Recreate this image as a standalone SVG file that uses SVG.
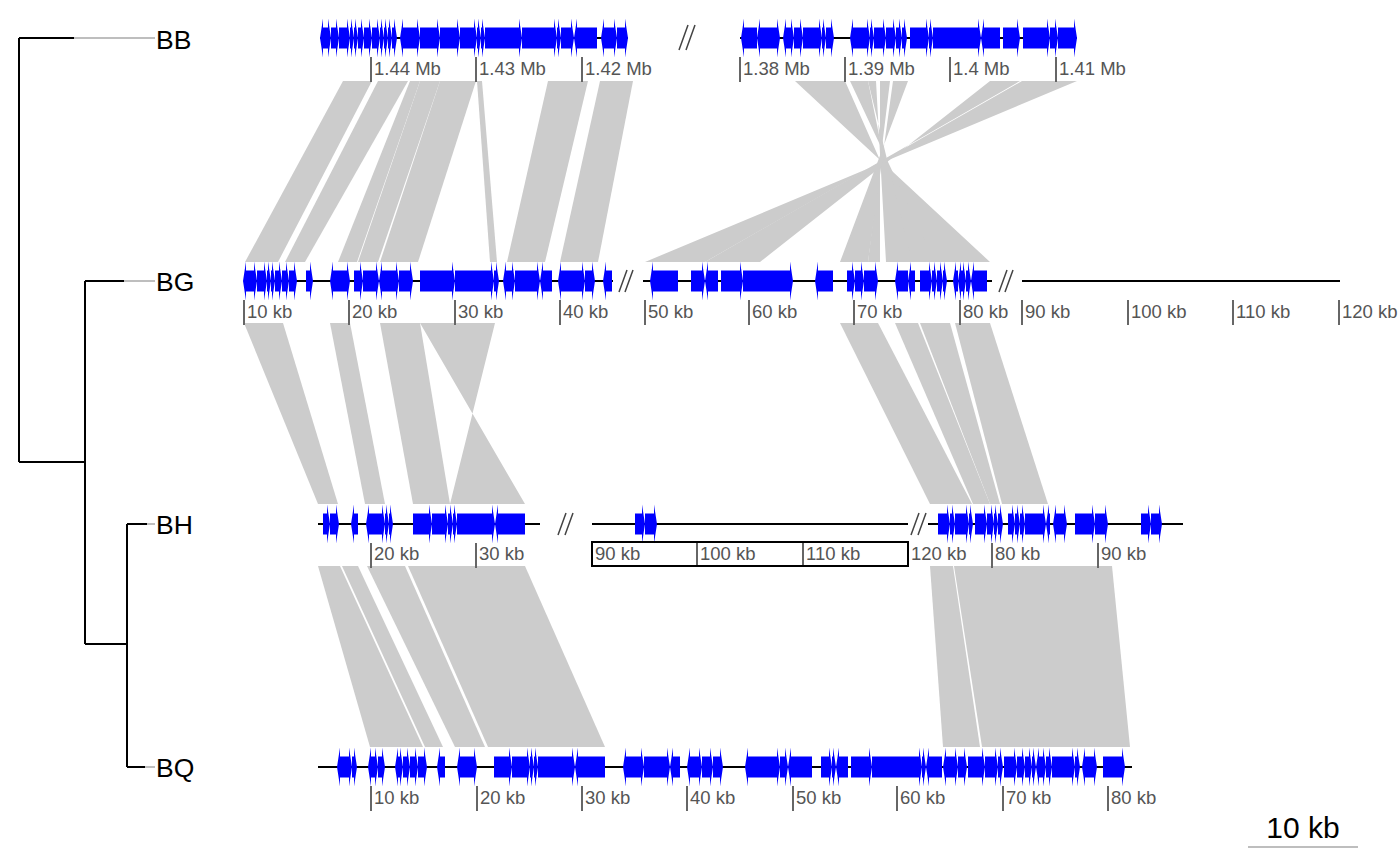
<svg xmlns="http://www.w3.org/2000/svg" width="1400" height="866" viewBox="0 0 1400 866">
<style>
.g{fill:#0000FF;stroke:none}
.ln{stroke:#000;stroke-width:2;fill:none}
.tk{stroke:#666;stroke-width:2;fill:none}
.tl{font-family:"Liberation Sans",Arial,sans-serif;font-size:18.5px;fill:#555}
.nm{font-family:"Liberation Sans",Arial,sans-serif;font-size:26.5px;fill:#000}
.br{stroke:#444;stroke-width:1.5;fill:none}
.cmp{fill:#CCCCCC;stroke:none}
.tb{stroke:#000;stroke-width:2;fill:none}
.tg{stroke:#BEBEBE;stroke-width:2;fill:none}
</style>
<rect width="1400" height="866" fill="#fff"/>
<g id="tree">
<path class="tb" d="M19 38V462M19 38H74M19 462H85M85 281V644M85 281H124M85 644H127M127 524V767M127 524H147M127 767H145"/>
<path class="tg" d="M74 38H155M124 281H155M147 524H155M145 767H155"/>
<text class="nm" x="156" y="49">BB</text>
<text class="nm" x="156" y="291">BG</text>
<text class="nm" x="156" y="534">BH</text>
<text class="nm" x="156" y="777">BQ</text>
</g>
<g id="connectors">
<polygon class="cmp" points="343,81 372,81 278,262 245,262"/>
<polygon class="cmp" points="378,81 408,81 305,262 285,262"/>
<polygon class="cmp" points="410,81 420,81 357,262 338,262"/>
<polygon class="cmp" points="420,81 440,81 378,262 358,262"/>
<polygon class="cmp" points="440,81 476,81 418,262 380,262"/>
<polygon class="cmp" points="477,81 482,81 497,262 490,262"/>
<polygon class="cmp" points="548,81 588,81 545,262 507,262"/>
<polygon class="cmp" points="600,81 633,81 598,262 560,262"/>
<polygon class="cmp" points="795,81 845,81 925,262 990,262"/>
<polygon class="cmp" points="850,81 868,81 905,262 935,262"/>
<polygon class="cmp" points="868,81 876,81 886,262 912,262"/>
<polygon class="cmp" points="880,81 890,81 868,262 880,262"/>
<polygon class="cmp" points="893,81 908,81 840,262 868,262"/>
<polygon class="cmp" points="990,81 1020,81 705,262 760,262"/>
<polygon class="cmp" points="1022,81 1077,81 645,262 705,262"/>
<polygon class="cmp" points="244,323 283,323 338,504 318,504"/>
<polygon class="cmp" points="330,323 350,323 385,504 365,504"/>
<polygon class="cmp" points="380,323 420,323 450,504 413,504"/>
<polygon class="cmp" points="420,323 495,323 450,504 525,504"/>
<polygon class="cmp" points="840,323 878,323 972,504 930,504"/>
<polygon class="cmp" points="895,323 918,323 990,504 973,504"/>
<polygon class="cmp" points="920,323 950,323 1000,504 990,504"/>
<polygon class="cmp" points="955,323 990,323 1048,504 1002,504"/>
<polygon class="cmp" points="318,566 340,566 423,747 370,747"/>
<polygon class="cmp" points="342,566 358,566 443,747 425,747"/>
<polygon class="cmp" points="367,566 405,566 485,747 455,747"/>
<polygon class="cmp" points="408,566 525,566 605,747 488,747"/>
<polygon class="cmp" points="930,566 953,566 980,747 943,747"/>
<polygon class="cmp" points="954,566 1112,566 1130,747 982,747"/>
</g>
<g id="BB" transform="translate(0,38)">
<path class="ln" d="M320 0H628M740 0H1077"/>
<path class="br" d="M679 12l9-25M686 12l9-25"/>
<path class="g" d="M327-10.5H320h3v-9l-3 19.5 3 19.5v-9H327zM327-10.5H331h-3v-9l3 19.5-3 19.5v-9H327zM331-10.5H339h-3v-9l3 19.5-3 19.5v-9H331zM339-10.5H350h-3v-9l3 19.5-3 19.5v-9H339zM350-10.5H354h-3v-9l3 19.5-3 19.5v-9H350zM354-10.5H358h-3v-9l3 19.5-3 19.5v-9H354zM358-10.5H364h-3v-9l3 19.5-3 19.5v-9H358zM364-10.5H372h-3v-9l3 19.5-3 19.5v-9H364zM372-10.5H380h-3v-9l3 19.5-3 19.5v-9H372zM380-10.5H384h-3v-9l3 19.5-3 19.5v-9H380zM384-10.5H388h-3v-9l3 19.5-3 19.5v-9H384zM388-10.5H392h-3v-9l3 19.5-3 19.5v-9H388zM392-10.5H397h-3v-9l3 19.5-3 19.5v-9H392zM416-10.5H400h3v-9l-3 19.5 3 19.5v-9H416zM416-10.5H420h-3v-9l3 19.5-3 19.5v-9H416zM420-10.5H440h-3v-9l3 19.5-3 19.5v-9H420zM440-10.5H460h-3v-9l3 19.5-3 19.5v-9H440zM460-10.5H477h-3v-9l3 19.5-3 19.5v-9H460zM477-10.5H481h-3v-9l3 19.5-3 19.5v-9H477zM481-10.5H485h-3v-9l3 19.5-3 19.5v-9H481zM485-10.5H522h-3v-9l3 19.5-3 19.5v-9H485zM522-10.5H557h-3v-9l3 19.5-3 19.5v-9H522zM557-10.5H561h-3v-9l3 19.5-3 19.5v-9H557zM561-10.5H574h-3v-9l3 19.5-3 19.5v-9H561zM597-10.5H574h3v-9l-3 19.5 3 19.5v-9H597zM612-10.5H601h3v-9l-3 19.5 3 19.5v-9H612zM612-10.5H617h-3v-9l3 19.5-3 19.5v-9H612zM617-10.5H628h-3v-9l3 19.5-3 19.5v-9H617z"/>
<path class="g" d="M757-10.5H741h3v-9l-3 19.5 3 19.5v-9H757zM762-10.5H757h3v-9l-3 19.5 3 19.5v-9H762zM762-10.5H780h-3v-9l3 19.5-3 19.5v-9H762zM789-10.5H783h3v-9l-3 19.5 3 19.5v-9H789zM789-10.5H794h-3v-9l3 19.5-3 19.5v-9H789zM794-10.5H803h-3v-9l3 19.5-3 19.5v-9H794zM803-10.5H822h-3v-9l3 19.5-3 19.5v-9H803zM822-10.5H826h-3v-9l3 19.5-3 19.5v-9H822zM826-10.5H834h-3v-9l3 19.5-3 19.5v-9H826zM857-10.5H850h3v-9l-3 19.5 3 19.5v-9H857zM857-10.5H870h-3v-9l3 19.5-3 19.5v-9H857zM870-10.5H874h-3v-9l3 19.5-3 19.5v-9H870zM874-10.5H886h-3v-9l3 19.5-3 19.5v-9H874zM886-10.5H896h-3v-9l3 19.5-3 19.5v-9H886zM896-10.5H902h-3v-9l3 19.5-3 19.5v-9H896zM902-10.5H907h-3v-9l3 19.5-3 19.5v-9H902zM910-10.5H929h-3v-9l3 19.5-3 19.5v-9H910zM929-10.5H933h-3v-9l3 19.5-3 19.5v-9H929zM933-10.5H981h-3v-9l3 19.5-3 19.5v-9H933zM1000-10.5H981h3v-9l-3 19.5 3 19.5v-9H1000zM1003-10.5H1020h-3v-9l3 19.5-3 19.5v-9H1003zM1023-10.5H1050h-3v-9l3 19.5-3 19.5v-9H1023zM1050-10.5H1058h-3v-9l3 19.5-3 19.5v-9H1050zM1058-10.5H1077h-3v-9l3 19.5-3 19.5v-9H1058z"/>
<path class="tk" d="M371 19V44M476 19V44M582 19V44M740 19V44M845 19V44M950 19V44M1056 19V44"/>
<text class="tl" y="37"><tspan x="374">1.44 Mb</tspan><tspan x="479">1.43 Mb</tspan><tspan x="585">1.42 Mb</tspan><tspan x="743">1.38 Mb</tspan><tspan x="848">1.39 Mb</tspan><tspan x="953">1.4 Mb</tspan><tspan x="1059">1.41 Mb</tspan></text>
</g>
<g id="BG" transform="translate(0,281)">
<path class="ln" d="M244 0H613M643 0H992M1022 0H1340"/>
<path class="br" d="M619 11l8-22M625 11l8-22M999 11l8-22M1005 11l8-22"/>
<path class="g" d="M249-10.5H243h3v-9l-3 19.5 3 19.5v-9H249zM249-10.5H257h-3v-9l3 19.5-3 19.5v-9H249zM257-10.5H267h-3v-9l3 19.5-3 19.5v-9H257zM267-10.5H271h-3v-9l3 19.5-3 19.5v-9H267zM271-10.5H275h-3v-9l3 19.5-3 19.5v-9H271zM275-10.5H282h-3v-9l3 19.5-3 19.5v-9H275zM282-10.5H289h-3v-9l3 19.5-3 19.5v-9H282zM289-10.5H297h-3v-9l3 19.5-3 19.5v-9H289zM306-10.5H313h-3v-9l3 19.5-3 19.5v-9H306zM336-10.5H330h3v-9l-3 19.5 3 19.5v-9H336zM336-10.5H350h-3v-9l3 19.5-3 19.5v-9H336zM354-10.5H363h-3v-9l3 19.5-3 19.5v-9H354zM363-10.5H379h-3v-9l3 19.5-3 19.5v-9H363zM395-10.5H379h3v-9l-3 19.5 3 19.5v-9H395zM395-10.5H399h-3v-9l3 19.5-3 19.5v-9H395zM399-10.5H413h-3v-9l3 19.5-3 19.5v-9H399zM420-10.5H455h-3v-9l3 19.5-3 19.5v-9H420zM455-10.5H494h-3v-9l3 19.5-3 19.5v-9H455zM494-10.5H499h-3v-9l3 19.5-3 19.5v-9H494zM511-10.5H503h3v-9l-3 19.5 3 19.5v-9H511zM511-10.5H515h-3v-9l3 19.5-3 19.5v-9H511zM515-10.5H540h-3v-9l3 19.5-3 19.5v-9H515zM552-10.5H540h3v-9l-3 19.5 3 19.5v-9H552zM573-10.5H558h3v-9l-3 19.5 3 19.5v-9H573zM573-10.5H585h-3v-9l3 19.5-3 19.5v-9H573zM585-10.5H595h-3v-9l3 19.5-3 19.5v-9H585zM612-10.5H603h3v-9l-3 19.5 3 19.5v-9H612z"/>
<path class="g" d="M678-10.5H650h3v-9l-3 19.5 3 19.5v-9H678zM691-10.5H705h-3v-9l3 19.5-3 19.5v-9H691zM718-10.5H705h3v-9l-3 19.5 3 19.5v-9H718zM721-10.5H743h-3v-9l3 19.5-3 19.5v-9H721zM743-10.5H793h-3v-9l3 19.5-3 19.5v-9H743zM833-10.5H815h3v-9l-3 19.5 3 19.5v-9H833zM847-10.5H855h-3v-9l3 19.5-3 19.5v-9H847zM855-10.5H864h-3v-9l3 19.5-3 19.5v-9H855zM864-10.5H878h-3v-9l3 19.5-3 19.5v-9H864zM908-10.5H895h3v-9l-3 19.5 3 19.5v-9H908zM915-10.5H908h3v-9l-3 19.5 3 19.5v-9H915zM920-10.5H932h-3v-9l3 19.5-3 19.5v-9H920zM932-10.5H937h-3v-9l3 19.5-3 19.5v-9H932zM937-10.5H943h-3v-9l3 19.5-3 19.5v-9H937zM943-10.5H947h-3v-9l3 19.5-3 19.5v-9H943zM958-10.5H953h3v-9l-3 19.5 3 19.5v-9H958zM962-10.5H958h3v-9l-3 19.5 3 19.5v-9H962zM962-10.5H966h-3v-9l3 19.5-3 19.5v-9H962zM966-10.5H971h-3v-9l3 19.5-3 19.5v-9H966zM987-10.5H971h3v-9l-3 19.5 3 19.5v-9H987z"/>
<path class="tk" d="M244 19V44M349 19V44M455 19V44M560 19V44M645 19V44M749 19V44M854 19V44M960 19V44M1022 19V44M1128 19V44M1233 19V44M1339 19V44"/>
<text class="tl" y="37"><tspan x="247">10 kb</tspan><tspan x="352">20 kb</tspan><tspan x="458">30 kb</tspan><tspan x="563">40 kb</tspan><tspan x="648">50 kb</tspan><tspan x="752">60 kb</tspan><tspan x="857">70 kb</tspan><tspan x="963">80 kb</tspan><tspan x="1025">90 kb</tspan><tspan x="1131">100 kb</tspan><tspan x="1236">110 kb</tspan><tspan x="1342">120 kb</tspan></text>
</g>
<g id="BH" transform="translate(0,524)">
<path class="ln" d="M318 0H540M592 0H908M928 0H1183"/>
<path class="br" d="M558 11l8-22M565 11l8-22M911 11l8-22M918 11l8-22"/>
<path class="g" d="M323-10.5H330h-3v-9l3 19.5-3 19.5v-9H323zM330-10.5H339h-3v-9l3 19.5-3 19.5v-9H330zM358-10.5H351h3v-9l-3 19.5 3 19.5v-9H358zM372-10.5H366h3v-9l-3 19.5 3 19.5v-9H372zM372-10.5H385h-3v-9l3 19.5-3 19.5v-9H372zM385-10.5H389h-3v-9l3 19.5-3 19.5v-9H385zM389-10.5H393h-3v-9l3 19.5-3 19.5v-9H389zM413-10.5H432h-3v-9l3 19.5-3 19.5v-9H413zM432-10.5H448h-3v-9l3 19.5-3 19.5v-9H432zM448-10.5H453h-3v-9l3 19.5-3 19.5v-9H448zM453-10.5H457h-3v-9l3 19.5-3 19.5v-9H453zM457-10.5H495h-3v-9l3 19.5-3 19.5v-9H457zM525-10.5H495h3v-9l-3 19.5 3 19.5v-9H525z"/>
<path class="g" d="M635-10.5H645h-3v-9l3 19.5-3 19.5v-9H635zM645-10.5H657h-3v-9l3 19.5-3 19.5v-9H645z"/>
<path class="g" d="M938-10.5H950h-3v-9l3 19.5-3 19.5v-9H938zM950-10.5H955h-3v-9l3 19.5-3 19.5v-9H950zM955-10.5H969h-3v-9l3 19.5-3 19.5v-9H955zM969-10.5H973h-3v-9l3 19.5-3 19.5v-9H969zM975-10.5H987h-3v-9l3 19.5-3 19.5v-9H975zM987-10.5H994h-3v-9l3 19.5-3 19.5v-9H987zM994-10.5H998h-3v-9l3 19.5-3 19.5v-9H994zM998-10.5H1003h-3v-9l3 19.5-3 19.5v-9H998zM1008-10.5H1015h-3v-9l3 19.5-3 19.5v-9H1008zM1015-10.5H1020h-3v-9l3 19.5-3 19.5v-9H1015zM1020-10.5H1025h-3v-9l3 19.5-3 19.5v-9H1020zM1025-10.5H1046h-3v-9l3 19.5-3 19.5v-9H1025zM1050-10.5H1046h3v-9l-3 19.5 3 19.5v-9H1050zM1060-10.5H1053h3v-9l-3 19.5 3 19.5v-9H1060zM1060-10.5H1067h-3v-9l3 19.5-3 19.5v-9H1060zM1075-10.5H1095h-3v-9l3 19.5-3 19.5v-9H1075zM1095-10.5H1108h-3v-9l3 19.5-3 19.5v-9H1095zM1141-10.5H1151h-3v-9l3 19.5-3 19.5v-9H1141zM1151-10.5H1162h-3v-9l3 19.5-3 19.5v-9H1151z"/>
<path class="tk" d="M371 19V44M476 19V44M697 19V42M803 19V42M992 19V44M1098 19V44"/>
<rect x="592" y="18" width="316" height="24" fill="none" stroke="#000" stroke-width="2"/>
<text class="tl" y="36"><tspan x="374">20 kb</tspan><tspan x="479">30 kb</tspan><tspan x="595">90 kb</tspan><tspan x="700">100 kb</tspan><tspan x="806">110 kb</tspan><tspan x="911">120 kb</tspan><tspan x="995">80 kb</tspan><tspan x="1101">90 kb</tspan></text>
</g>
<g id="BQ" transform="translate(0,767)">
<path class="ln" d="M318 0H1132"/>
<path class="g" d="M342-10.5H337h3v-9l-3 19.5 3 19.5v-9H342zM342-10.5H352h-3v-9l3 19.5-3 19.5v-9H342zM352-10.5H357h-3v-9l3 19.5-3 19.5v-9H352zM373-10.5H368h3v-9l-3 19.5 3 19.5v-9H373zM373-10.5H378h-3v-9l3 19.5-3 19.5v-9H373zM378-10.5H385h-3v-9l3 19.5-3 19.5v-9H378zM399-10.5H395h3v-9l-3 19.5 3 19.5v-9H399zM399-10.5H403h-3v-9l3 19.5-3 19.5v-9H399zM403-10.5H410h-3v-9l3 19.5-3 19.5v-9H403zM410-10.5H418h-3v-9l3 19.5-3 19.5v-9H410zM418-10.5H427h-3v-9l3 19.5-3 19.5v-9H418zM445-10.5H437h3v-9l-3 19.5 3 19.5v-9H445zM463-10.5H457h3v-9l-3 19.5 3 19.5v-9H463zM463-10.5H477h-3v-9l3 19.5-3 19.5v-9H463zM494-10.5H512h-3v-9l3 19.5-3 19.5v-9H494zM512-10.5H530h-3v-9l3 19.5-3 19.5v-9H512zM530-10.5H534h-3v-9l3 19.5-3 19.5v-9H530zM534-10.5H538h-3v-9l3 19.5-3 19.5v-9H534zM538-10.5H575h-3v-9l3 19.5-3 19.5v-9H538zM605-10.5H575h3v-9l-3 19.5 3 19.5v-9H605zM640-10.5H623h3v-9l-3 19.5 3 19.5v-9H640zM640-10.5H644h-3v-9l3 19.5-3 19.5v-9H640zM644-10.5H670h-3v-9l3 19.5-3 19.5v-9H644zM680-10.5H670h3v-9l-3 19.5 3 19.5v-9H680zM692-10.5H687h3v-9l-3 19.5 3 19.5v-9H692zM692-10.5H702h-3v-9l3 19.5-3 19.5v-9H692zM702-10.5H713h-3v-9l3 19.5-3 19.5v-9H702zM713-10.5H723h-3v-9l3 19.5-3 19.5v-9H713z"/>
<path class="g" d="M763-10.5H745h3v-9l-3 19.5 3 19.5v-9H763zM763-10.5H780h-3v-9l3 19.5-3 19.5v-9H763zM780-10.5H788h-3v-9l3 19.5-3 19.5v-9H780zM812-10.5H788h3v-9l-3 19.5 3 19.5v-9H812zM821-10.5H832h-3v-9l3 19.5-3 19.5v-9H821zM832-10.5H836h-3v-9l3 19.5-3 19.5v-9H832zM848-10.5H836h3v-9l-3 19.5 3 19.5v-9H848zM851-10.5H872h-3v-9l3 19.5-3 19.5v-9H851zM872-10.5H922h-3v-9l3 19.5-3 19.5v-9H872zM922-10.5H926h-3v-9l3 19.5-3 19.5v-9H922zM942-10.5H926h3v-9l-3 19.5 3 19.5v-9H942zM947-10.5H943h3v-9l-3 19.5 3 19.5v-9H947zM947-10.5H958h-3v-9l3 19.5-3 19.5v-9H947zM958-10.5H967h-3v-9l3 19.5-3 19.5v-9H958zM968-10.5H985h-3v-9l3 19.5-3 19.5v-9H968zM985-10.5H998h-3v-9l3 19.5-3 19.5v-9H985zM998-10.5H1003h-3v-9l3 19.5-3 19.5v-9H998zM1004-10.5H1017h-3v-9l3 19.5-3 19.5v-9H1004zM1017-10.5H1025h-3v-9l3 19.5-3 19.5v-9H1017zM1025-10.5H1032h-3v-9l3 19.5-3 19.5v-9H1025zM1032-10.5H1036h-3v-9l3 19.5-3 19.5v-9H1032zM1042-10.5H1036h3v-9l-3 19.5 3 19.5v-9H1042zM1042-10.5H1046h-3v-9l3 19.5-3 19.5v-9H1042zM1046-10.5H1052h-3v-9l3 19.5-3 19.5v-9H1046zM1052-10.5H1075h-3v-9l3 19.5-3 19.5v-9H1052zM1075-10.5H1080h-3v-9l3 19.5-3 19.5v-9H1075zM1093-10.5H1082h3v-9l-3 19.5 3 19.5v-9H1093zM1093-10.5H1097h-3v-9l3 19.5-3 19.5v-9H1093zM1103-10.5H1125h-3v-9l3 19.5-3 19.5v-9H1103z"/>
<path class="tk" d="M371 19V44M477 19V44M582 19V44M687 19V44M793 19V44M897 19V44M1003 19V44M1108 19V44"/>
<text class="tl" y="37"><tspan x="374">10 kb</tspan><tspan x="480">20 kb</tspan><tspan x="585">30 kb</tspan><tspan x="690">40 kb</tspan><tspan x="796">50 kb</tspan><tspan x="900">60 kb</tspan><tspan x="1006">70 kb</tspan><tspan x="1111">80 kb</tspan></text>
</g>
<g id="scale">
<path d="M1248 847H1358" stroke="#BEBEBE" stroke-width="2"/>
<text x="1303" y="838" text-anchor="middle" font-family="Liberation Sans, Arial, sans-serif" font-size="30" fill="#000">10 kb</text>
</g>
</svg>
